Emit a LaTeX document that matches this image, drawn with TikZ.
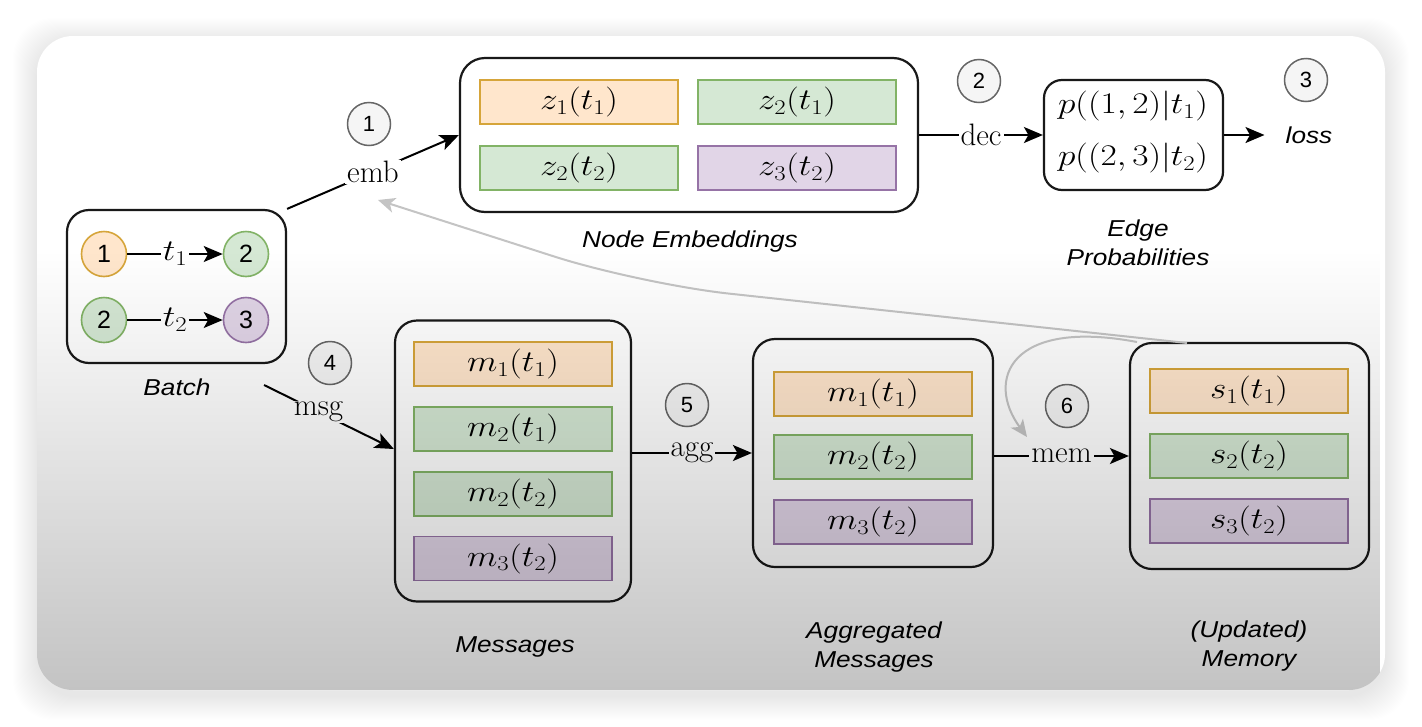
\RequirePackage{fix-cm}
\documentclass[tikz,border=0pt]{standalone}
\usepackage{fontspec}
\newfontfamily\sanslbl{Liberation Sans}
\usetikzlibrary{arrows.meta,calc,fadings}

\definecolor{orF}{HTML}{FFE6CC}\definecolor{orD}{HTML}{D6A53A}
\definecolor{grF}{HTML}{D5E8D4}\definecolor{grD}{HTML}{82B366}
\definecolor{puF}{HTML}{E1D5E7}\definecolor{puD}{HTML}{9673A6}
\definecolor{stepF}{HTML}{F5F5F5}\definecolor{stepD}{HTML}{666666}
\definecolor{backArr}{HTML}{C4C4C4}

\newcommand\mfs{\fontsize{30}{36}\selectfont}
\newcommand\mth[1]{\scalebox{1.18}[1]{$#1$}}
\newcommand\sx[1]{\scalebox{1.14}[1]{#1}}

\tikzfading[name=darkdown, top color=transparent!100, bottom color=transparent!0]

\tikzset{
  box/.style={draw=black!90, line width=2.2pt, rounded corners=22pt, inner sep=0pt},
  cell/.style={line width=1.7pt, minimum width=198pt, minimum height=44pt, inner sep=0pt, font=\mfs},
  cellO/.style={cell, fill=orF, draw=orD},
  cellG/.style={cell, fill=grF, draw=grD},
  cellP/.style={cell, fill=puF, draw=puD},
  bnode/.style={circle, line width=1.6pt, minimum size=45pt, inner sep=0pt, font=\sanslbl\fontsize{25}{28}\selectfont},
  stepc/.style={circle, draw=stepD, fill=stepF, line width=1.5pt, minimum size=43pt, inner sep=0pt, font=\sanslbl\fontsize{22}{25}\selectfont},
  arr/.style={line width=2pt, -{Stealth[length=19pt,width=16pt,inset=4.5pt]}},
  backarr/.style={draw=backArr, line width=2pt, -{Stealth[length=17pt,width=15pt,inset=4.5pt]}},
  flowlbl/.style={fill=white, inner xsep=2pt, inner ysep=1pt, font=\fontsize{31}{36}\selectfont},
  caption/.style={font=\sanslbl\itshape\fontsize{23}{28.5}\selectfont, align=center},
}

\begin{document}
\begin{tikzpicture}[x=1pt, y=-1pt]
\useasboundingbox (0,0) rectangle (1422,726);

% soft shadow and white card
\foreach \i in {1,...,24}{
  \fill[black, opacity=0.0042, rounded corners=40pt]
    ({37-\i},{36-\i+6}) rectangle ({1385+\i},{690+\i+6});
}
\fill[white, rounded corners=36pt] (37,36) rectangle (1385,690);

% ---- batch ----
\node[box, minimum width=219pt, minimum height=153pt] (batch) at (176.5,286.5) {};
\node[bnode, fill=orF, draw=orD] (b1) at (104,254) {1};
\node[bnode, fill=grF, draw=grD] (b2) at (246,254) {2};
\node[bnode, fill=grF, draw=grD] (b2b) at (104,320) {2};
\node[bnode, fill=puF, draw=puD] (b3) at (246,320) {3};
\draw[arr] (b1) -- node[flowlbl, font=\mfs] (t1l) {\mth{t_1}} (b2);
\draw[arr] (b2b) -- node[flowlbl, font=\mfs] (t2l) {\mth{t_2}} (b3);
\node[caption] (batchlbl) at (177,387) {\sx{Batch}};

% ---- node embeddings ----
\node[box, rounded corners=25pt, minimum width=458pt, minimum height=154pt] (ne) at (689,135) {};
\node[cellO] (z1a) at (579,102) {\mth{z_1(t_1)}};
\node[cellG] (z2a) at (797,102) {\mth{z_2(t_1)}};
\node[cellG] (z2b) at (579,168) {\mth{z_2(t_2)}};
\node[cellP] (z3b) at (797,168) {\mth{z_3(t_2)}};
\node[caption] (nelbl) at (690,242) {\sx{Node Embeddings}};

% ---- edge probabilities ----
\node[box, rounded corners=18pt, minimum width=179pt, minimum height=110pt] (ep) at (1133.5,135) {};
\node[font=\mfs] (p1) at (1133,106) {\mth{p((1,2)|t_1)}};
\node[font=\mfs] (p2) at (1133,158) {\mth{p((2,3)|t_2)}};
\node[caption] (eplbl) at (1138,243) {\sx{Edge}\\\sx{Probabilities}};
\node[caption, inner xsep=21pt] (loss) at (1309,135) {\sx{loss}};

% ---- messages ----
\node[box, minimum width=236pt, minimum height=281pt] (msgbox) at (513,461) {};
\node[cellO] (m1a) at (513,364) {\mth{m_1(t_1)}};
\node[cellG] (m2a) at (513,429) {\mth{m_2(t_1)}};
\node[cellG] (m2b) at (513,494) {\mth{m_2(t_2)}};
\node[cellP] (m3b) at (513,558.5) {\mth{m_3(t_2)}};
\node[caption] (msglbl) at (515,647) {\sx{Messages}};

% ---- aggregated messages ----
\node[box, minimum width=240pt, minimum height=228pt] (aggbox) at (873,453) {};
\node[cellO] (a1) at (873,394) {\mth{m_1(t_1)}};
\node[cellG] (a2) at (873,457) {\mth{m_2(t_2)}};
\node[cellP] (a3) at (873,522) {\mth{m_3(t_2)}};
\node[caption] (agglbl) at (874,647) {\sx{Aggregated}\\\sx{Messages}};

% ---- memory ----
\node[box, minimum width=239pt, minimum height=226pt] (membox) at (1249.5,456) {};
\node[cellO] (s1) at (1249,391) {\mth{s_1(t_1)}};
\node[cellG] (s2) at (1249,456) {\mth{s_2(t_2)}};
\node[cellP] (s3) at (1249,521) {\mth{s_3(t_2)}};
\node[caption] (memlbl) at (1249,646) {\sx{(Updated)}\\\sx{Memory}};

% ---- step markers ----
\node[stepc] (st1) at (369,124) {1};
\node[stepc] (st2) at (979,81) {2};
\node[stepc] (st3) at (1306,80) {3};
\node[stepc] (st4) at (330,363) {4};
\node[stepc] (st5) at (687,405) {5};
\node[stepc] (st6) at (1067,406) {6};

% ---- flow ----
\coordinate (msgstart) at (264,385);
\coordinate (msgend) at ($(msgbox.west)+(0,-12)$);
\draw[arr] (batch.north east) -- node[flowlbl] (embl) {emb} (ne.west);
\draw[arr] (msgstart) -- node[flowlbl, pos=0.42] (msgl) {msg} (msgend);
\draw[arr] (ne.east) -- node[flowlbl] (decl) {dec} (ep.west);
\draw[arr] (ep.east) -- (loss.west);
\draw[arr] (aggbox.west -| msgbox.east) -- node[flowlbl] (aggl) {agg} (aggbox.west);
\draw[arr] (membox.west -| aggbox.east) -- node[flowlbl] (meml) {mem} (membox.west);

% ---- memory feedback ----
\coordinate (fbA) at (1187,343);
\coordinate (fbB) at (1137,342);
\coordinate (embin) at (378,200);
\coordinate (memin) at (1027,437);
\draw[backarr, rounded corners=90pt] (fbA) -- (640,284) -- (embin);
\draw[backarr] (fbB) .. controls (1010,318) and (985,380) .. (memin);

% ---- darkening towards the bottom ----
\begin{scope}
  \clip[rounded corners=36pt] (37,36) rectangle (1385,690);
  \fill[black, fill opacity=0.235, path fading=darkdown] (37,250) rectangle (1385,690);
\end{scope}
\end{tikzpicture}
\end{document}
